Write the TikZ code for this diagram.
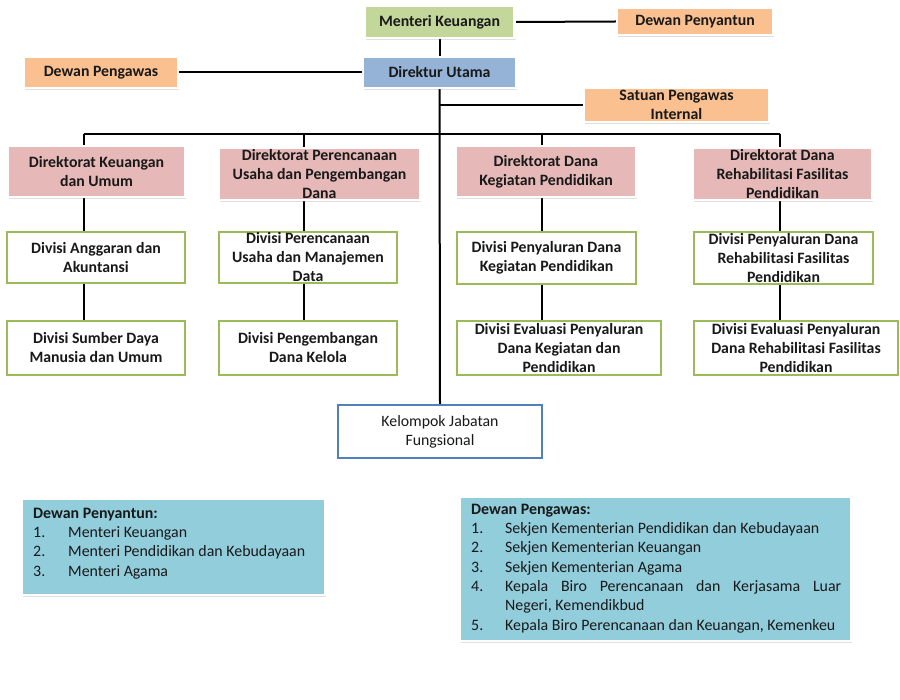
\documentclass[tikz,border=0pt]{standalone}
\usepackage{fontspec}
\setmainfont{Carlito}
\usepackage{tikz}
\usetikzlibrary{positioning,shadows,backgrounds}
\definecolor{menterigreen}{RGB}{196, 215, 155}
\definecolor{dewanorange}{RGB}{250, 192, 144}
\definecolor{direkturblue}{RGB}{149, 179, 215}
\definecolor{direktoratpink}{RGB}{230, 185, 184}
\definecolor{divisigreen}{RGB}{155, 187, 89}
\definecolor{kelompokblue}{RGB}{79, 129, 189}
\definecolor{listcyan}{RGB}{146, 205, 220}
\definecolor{textdark}{RGB}{25, 25, 25}

\begin{document}
\begin{tikzpicture}[x=1pt, y=-1pt,
    box/.style={inner sep=0pt, align=center, text=textdark,
        font=\bfseries\fontsize{15.8}{19}\selectfont},
    topbox/.style={box, draw=white, line width=2.5pt,
        drop shadow={opacity=0.25, shadow xshift=1pt, shadow yshift=-2pt}},
    divbox/.style={box, draw=divisigreen, line width=2.3pt, fill=white},
    listbox/.style={draw=white, line width=2.5pt, fill=listcyan,
        drop shadow={opacity=0.25, shadow xshift=1pt, shadow yshift=-2pt}},
    listtext/.style={inner sep=0pt, anchor=north west, text=textdark,
        font=\fontsize{15.9}{19.3}\selectfont},
    line/.style={line width=2pt, black}]
    \useasboundingbox (0,0) rectangle (900,700);

    % top of the chart
    \node[topbox, fill=menterigreen, minimum width=150pt, minimum height=32pt] (mk) at (439.5,22) {Menteri Keuangan};
    \node[topbox, fill=dewanorange, minimum width=156pt, minimum height=27pt] (penyantun) at (695,21.5) {Dewan Penyantun};
    \node[topbox, fill=dewanorange, minimum width=154pt, minimum height=31pt] (pengawas) at (101,72.5) {Dewan Pengawas};
    \node[topbox, fill=direkturblue, minimum width=153pt, minimum height=31pt] (du) at (439.5,72.5) {Direktur Utama};
    \node[topbox, fill=dewanorange, minimum width=185pt, minimum height=34pt] (spi) at (676.5,105) {Satuan Pengawas\\Internal};

    % direktorat
    \node[topbox, fill=direktoratpink, minimum width=177pt, minimum height=51pt] (dir1) at (96.5,171.5) {Direktorat Keuangan\\dan Umum};
    \node[topbox, fill=direktoratpink, minimum width=201pt, minimum height=52pt] (dir2) at (319.5,174) {Direktorat Perencanaan\\Usaha dan Pengembangan\\Dana};
    \node[topbox, fill=direktoratpink, minimum width=180pt, minimum height=51pt] (dir3) at (546,171.5) {Direktorat Dana\\Kegiatan Pendidikan};
    \node[topbox, fill=direktoratpink, minimum width=179pt, minimum height=52pt] (dir4) at (782.5,174) {Direktorat Dana\\Rehabilitasi Fasilitas\\Pendidikan};

    % divisi
    \node[divbox, minimum width=178pt, minimum height=51pt] (div11) at (96,257.5) {Divisi Anggaran dan\\Akuntansi};
    \node[divbox, minimum width=178pt, minimum height=51pt] (div12) at (308,257.5) {Divisi Perencanaan\\Usaha dan Manajemen\\Data};
    \node[divbox, minimum width=179pt, minimum height=52pt] (div13) at (546.5,258) {Divisi Penyaluran Dana\\Kegiatan Pendidikan};
    \node[divbox, minimum width=179pt, minimum height=52pt] (div14) at (783.5,258) {Divisi Penyaluran Dana\\Rehabilitasi Fasilitas\\Pendidikan};
    \node[divbox, minimum width=178pt, minimum height=54pt] (div21) at (96,348) {Divisi Sumber Daya\\Manusia dan Umum};
    \node[divbox, minimum width=178pt, minimum height=54pt] (div22) at (308,348) {Divisi Pengembangan\\Dana Kelola};
    \node[divbox, minimum width=204pt, minimum height=54pt] (div23) at (559,348) {Divisi Evaluasi Penyaluran\\Dana Kegiatan dan\\Pendidikan};
    \node[divbox, minimum width=204pt, minimum height=54pt] (div24) at (796,348) {Divisi Evaluasi Penyaluran\\Dana Rehabilitasi Fasilitas\\Pendidikan};

    \node[box, draw=kelompokblue, line width=2.3pt, fill=white, font=\fontsize{15.8}{19}\selectfont,
        minimum width=204pt, minimum height=53pt] (kjf) at (440,431.5) {Kelompok Jabatan\\Fungsional};

    % keterangan
    \node[listbox, minimum width=303pt, minimum height=96pt] (listpenyantun) at (173.5,547) {};
    \node[listtext] (tekspenyantun) at (33,504.5) {%
        \begin{tabular}{@{}p{35pt}@{}l@{}}
        \multicolumn{2}{@{}l@{}}{\bfseries Dewan Penyantun:}\\
        1. & Menteri Keuangan\\
        2. & Menteri Pendidikan dan Kebudayaan\\
        3. & Menteri Agama
        \end{tabular}};
    \node[listbox, minimum width=391pt, minimum height=144pt] (listpengawas) at (655.5,569) {};
    \node[listtext] (tekspengawas) at (471,500.5) {%
        \begin{tabular}{@{}p{34pt}@{}l@{}}
        \multicolumn{2}{@{}l@{}}{\bfseries Dewan Pengawas:}\\
        1. & Sekjen Kementerian Pendidikan dan Kebudayaan\\
        2. & Sekjen Kementerian Keuangan\\
        3. & Sekjen Kementerian Agama\\
        4. & \makebox[336pt][s]{Kepala Biro Perencanaan dan Kerjasama Luar}\\
           & Negeri, Kemendikbud\\
        5. & Kepala Biro Perencanaan dan Keuangan, Kemenkeu
        \end{tabular}};

    % connectors
    \coordinate (col1) at (84,134);
    \coordinate (col2) at (304,134);
    \coordinate (col3) at (542,134);
    \coordinate (col4) at (780,134);
    \begin{scope}[on background layer]
        \draw[line] (mk.east) -- (penyantun.west);
        \draw[line] (mk.south) -- (du.north);
        \draw[line] (pengawas.east) -- (du.west);
        \draw[line] (du.south) -- (kjf.north);
        \draw[line] (du.south |- spi.west) -- (spi.west);
        \draw[line] (col1) -- (col4);
        \foreach \c/\d in {col1/div21, col2/div22, col3/div23, col4/div24}
            \draw[line] (\c) -- (\c |- \d.north);
    \end{scope}
\end{tikzpicture}
\end{document}
